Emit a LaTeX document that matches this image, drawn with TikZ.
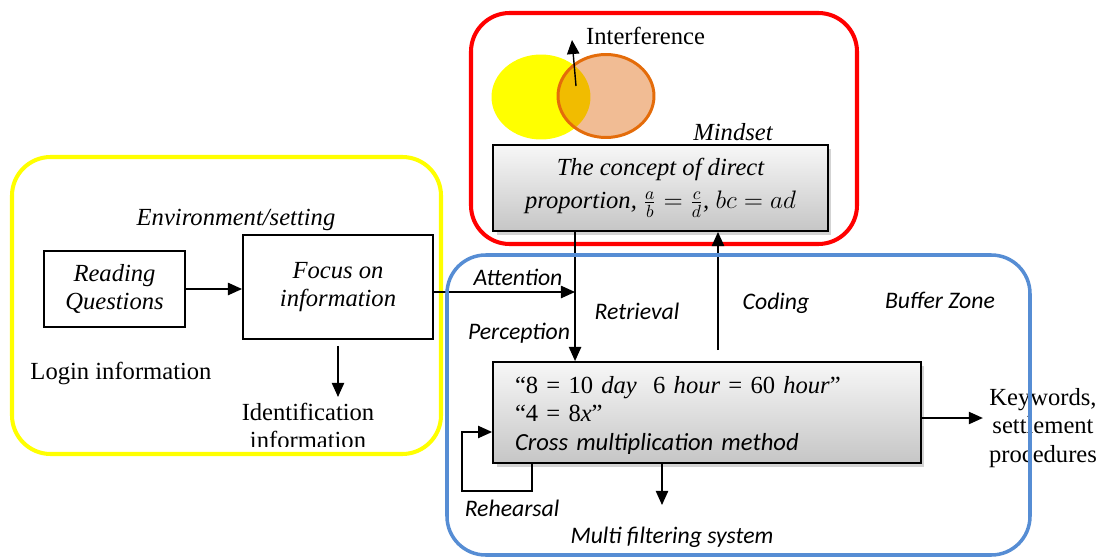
\documentclass[tikz,border=0pt]{standalone}
\usepackage{fontspec}
\setmainfont{Liberation Serif}
\newfontfamily\calibrifont{Carlito}
\usetikzlibrary{arrows.meta, shapes.geometric, positioning, shadows, calc}
\definecolor{zoneyellow}{RGB}{255,255,0}
\definecolor{zonered}{RGB}{255,0,0}
\definecolor{zoneblue}{RGB}{86,141,212}
\definecolor{setorange}{RGB}{228,108,10}
\definecolor{setfill}{RGB}{222,96,0}

\tikzset{
  zone/.style={rounded corners=22pt, line width=2.3pt},
  procbox/.style={draw, line width=1.1pt, align=center,
    font=\fontsize{14}{16}\selectfont\itshape},
  memobox/.style={draw, line width=1.1pt, top color=gray!6, bottom color=gray!45,
    drop shadow={shadow xshift=2pt, shadow yshift=-2pt, opacity=0.35}},
  arr/.style={-{Triangle[length=8pt,width=7pt]}, line width=0.8pt},
  plain/.style={font=\fontsize{14}{16}\selectfont, align=center},
  slant/.style={font=\fontsize{14}{16}\selectfont\itshape},
  cali/.style={font=\calibrifont\fontsize{13.5}{16}\selectfont\itshape},
}

\begin{document}
\begin{tikzpicture}[x=0.02cm, y=-0.02cm]
  \useasboundingbox (0,0) rectangle (1107,558);

  % outer zones
  \draw[zone, zoneyellow] (12,157) rectangle (441,454);
  \draw[zone, zonered] (471,13) rectangle (857,244);

  % mindset: overlapping knowledge
  \node[ellipse, fill=zoneyellow, minimum width=1.98cm, minimum height=1.7cm] (oldknow) at (541,97) {};
  \node[ellipse, draw=setorange, line width=1.7pt, fill=setfill, fill opacity=0.42,
        minimum width=1.92cm, minimum height=1.66cm] (newknow) at (606,96) {};
  \coordinate (overlap) at (576,86);
  \coordinate (intertip) at (572,40);
  \draw[arr] (overlap) -- (intertip);
  \node[plain, anchor=west] (interf) at (580,36) {Interference};
  \node[slant] (mindset) at (733,132) {Mindset};

  \node[memobox, procbox, minimum width=6.7cm, minimum height=1.72cm] (concept) at (660.5,188)
    {The concept of direct\\[3pt] proportion, $\frac{a}{b}=\frac{c}{d}$, $bc=ad$};

  % environment
  \node[slant] (env) at (236,220) {Environment/setting};
  \node[procbox, minimum width=2.82cm, minimum height=1.52cm] (reading) at (114.5,289)
    {Reading\\Questions};
  \node[procbox, minimum width=3.8cm, minimum height=2.08cm] (focus) at (338,287)
    {Focus on\\information};
  \node[plain] (login) at (121,373) {Login information};
  \begin{scope}
    \clip (200,396) rectangle (430,446);
    \node[plain] (ident) at (308,426) {Identification\\information};
  \end{scope}

  % buffer zone
  \node[memobox, minimum width=8.56cm, minimum height=2.02cm, text width=7.68cm,
        inner xsep=0.44cm, align=left, font=\fontsize{14}{16}\selectfont] (memory) at (707,412.5)
    {\rule{0pt}{13pt}“8 = 10 \textit{day}\ \ 6 \textit{hour} = 60 \textit{hour}”\\
     “4 = 8\textit{x}”\\
     {\calibrifont\itshape Cross multiplication method}};

  \node[cali] (attention) at (518,277) {Attention};
  \node[cali] (perception) at (519,333) {Perception};
  \node[cali] (retrieval) at (637,311) {Retrieval};
  \node[cali] (coding) at (776,303) {Coding};
  \node[cali] (buffer) at (940,300) {Buffer Zone};
  \node[cali] (rehearsal) at (512,508) {Rehearsal};
  \node[cali] (filter) at (672,537) {Multi filtering system};
  \node[plain] (keywords) at (1043,428) {Keywords,\\settlement\\procedures};

  % connectors
  \draw[arr] (reading.east) -- (reading.east -| focus.west);
  \draw[arr] ([yshift=-0.12cm]focus.south) -- (focus.south |- ident.north);
  \coordinate (retrtop) at ([xshift=1.66cm]concept.south west);
  \draw[arr] (retrtop) -- (retrtop |- memory.north);
  \draw[arr] ([yshift=-0.1cm]focus.east) -- ([yshift=-0.1cm]focus.east -| retrtop);
  \coordinate (codebot) at (718,350);
  \draw[arr] (codebot) -- (codebot |- concept.south);
  \draw[arr] ([xshift=0.8cm]memory.south west) |- ++(-70,27) |- ([yshift=-0.39cm]memory.west);
  \coordinate (filtend) at (662,505);
  \draw[arr] (filtend |- memory.south) -- (filtend);
  \draw[arr] ([yshift=-0.11cm]memory.east) -- ([yshift=-0.11cm]memory.east -| keywords.west);

  \draw[zone, zoneblue, line width=2pt] (447,255) rectangle (1030,555);
\end{tikzpicture}
\end{document}
